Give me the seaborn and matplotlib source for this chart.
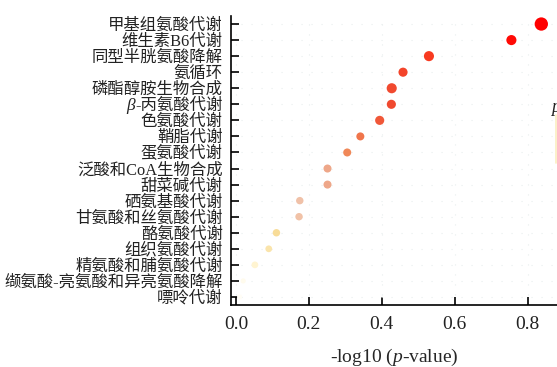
import matplotlib
matplotlib.use("Agg")
import matplotlib.pyplot as plt
import seaborn as sns
import numpy as np
import pandas as pd
from matplotlib.colors import LinearSegmentedColormap
from matplotlib.lines import Line2D

pathways = ["甲基组氨酸代谢", "维生素B6代谢", "同型半胱氨酸降解", "氨循环",
            "磷酯醇胺生物合成", "β-丙氨酸代谢", "色氨酸代谢", "鞘脂代谢",
            "蛋氨酸代谢", "泛酸和CoA生物合成", "甜菜碱代谢", "硒氨基酸代谢",
            "甘氨酸和丝氨酸代谢", "酪氨酸代谢", "组织氨酸代谢", "精氨酸和脯氨酸代谢",
            "缬氨酸-亮氨酸和异亮氨酸降解", "嘌呤代谢"]
neglogp = [0.837, 0.755, 0.529, 0.458, 0.427, 0.426, 0.394, 0.341, 0.305,
           0.251, 0.251, 0.175, 0.173, 0.111, 0.090, 0.052, 0.020, 0.010]
hits = [13, 9, 9, 8, 9, 8, 8, 7, 7, 7, 7, 6.5, 6.5, 6.5, 6, 6, 5, 5]

df = pd.DataFrame({"pathway": pathways, "neglogp": neglogp, "hits": hits})

sns.set_theme(style="white")
plt.rcParams["font.family"] = ["Liberation Serif", "Noto Sans CJK SC", "DejaVu Sans"]
plt.rcParams["mathtext.fontset"] = "custom"
plt.rcParams["mathtext.rm"] = "Liberation Serif"
plt.rcParams["mathtext.it"] = "Liberation Serif:italic"

cmap = LinearSegmentedColormap.from_list(
    "pv", [(0.0, "#ffffff"), (0.06, "#fff4d0"), (0.13, "#f8dc98"),
           (0.21, "#f0c0a8"), (0.30, "#eea688"), (0.36, "#f08858"),
           (0.50, "#f04a30"), (0.63, "#f83a20"), (0.85, "#ff1008"), (1.0, "#ff0000")])

fig = plt.figure(figsize=(5.57, 3.67), dpi=100)
ax = fig.add_axes([231 / 557, 1 - 305 / 367, 1 - 231 / 557, (305 - 16) / 367])

sns.scatterplot(data=df, x="neglogp", y="pathway", hue="neglogp", size="hits",
                palette=cmap, hue_norm=(0, 0.84), sizes=(14, 92),
                size_norm=(5, 13), linewidth=0, legend=False, ax=ax, zorder=3)

ax.set_xlim(-0.0135, 0.88)
ax.set_ylim(len(pathways) - 0.5, -0.5)
ax.set_xticks([0.0, 0.2, 0.4, 0.6, 0.8])
ax.set_xticklabels(["0.0", "0.2", "0.4", "0.6", "0.8"])
ax.set_ylabel("")
ax.set_xlabel("-log10 ($\\it{p}$-value)", fontsize=14, labelpad=10)
ax.tick_params(axis="x", direction="in", length=6, width=1.2, labelsize=14, pad=8, color="black")
ax.tick_params(axis="y", direction="in", length=6, width=1.2, labelsize=11.8, pad=6, color="black")
ax.tick_params(bottom=True, left=True)

# y tick labels; the Greek prefix is drawn in italic just left of its label
ylabels = []
for p in pathways:
    ylabels.append(p[1:] if p.startswith("β") else p)
ax.set_yticks(range(len(pathways)))
ax.set_yticklabels(ylabels)
for lbl in ax.get_yticklabels() + ax.get_xticklabels():
    lbl.set_color("#222222")
for i, p in enumerate(pathways):
    if p.startswith("β"):
        lbl = ax.get_yticklabels()[i]
        ax.annotate("β", xy=(0, 0.5), xycoords=lbl, ha="right", va="center",
                    fontsize=12.5, fontstyle="italic", color="#222222",
                    family=["Liberation Serif", "DejaVu Serif"], annotation_clip=False)

for s in ["top", "right"]:
    ax.spines[s].set_visible(False)
for s in ["left", "bottom"]:
    ax.spines[s].set_color("black")
    ax.spines[s].set_linewidth(1.2)

ax.grid(True, color="#e8eeee", linestyle=(0, (1, 8)), linewidth=0.8, zorder=0)

# partially visible legend at right edge
fig.text(551 / 557, 1 - 112 / 367, "p", style="italic", fontsize=13, color="#222222")
fig.add_artist(Line2D([556.3 / 557, 556.3 / 557], [1 - 163 / 367, 1 - 115 / 367],
                      color="#fbeec0", lw=1.2))

fig.savefig("out.png", dpi=100)
